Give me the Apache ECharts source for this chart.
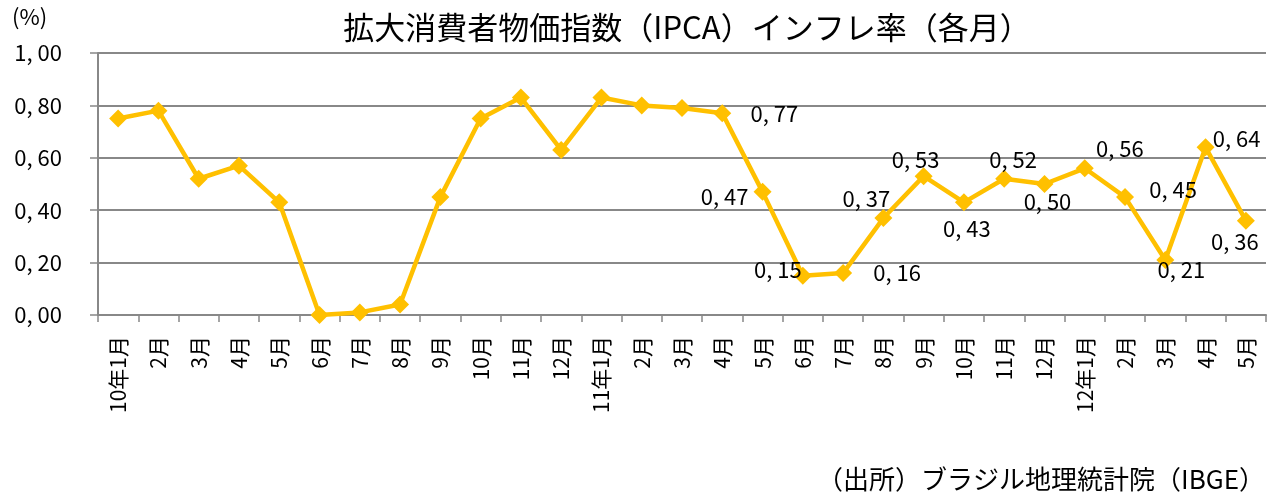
<!DOCTYPE html>
<html>
<head>
<meta charset="utf-8">
<script src="https://cdn.jsdelivr.net/npm/echarts@6/dist/echarts.min.js"></script>
<style>
  html, body { margin: 0; padding: 0; background: #fff; }
  #main { width: 1270px; height: 501px; }
</style>
</head>
<body>
<div id="main"></div>
<script>
// データ
var months = ['10年1月', '2月', '3月', '4月', '5月', '6月', '7月', '8月', '9月', '10月', '11月', '12月',
  '11年1月', '2月', '3月', '4月', '5月', '6月', '7月', '8月', '9月', '10月', '11月', '12月',
  '12年1月', '2月', '3月', '4月', '5月'];
var ipca = [0.75, 0.78, 0.52, 0.57, 0.43, 0.00, 0.01, 0.04, 0.45, 0.75, 0.83, 0.63,
  0.83, 0.80, 0.79, 0.77, 0.47, 0.15, 0.16, 0.37, 0.53, 0.43, 0.52, 0.50,
  0.56, 0.45, 0.21, 0.64, 0.36];
var yTicks = [0, 0.2, 0.4, 0.6, 0.8, 1.0];

// ラベルの位置（点の中心からのずれ）
var labelOffsets = {
  15: [52, 0], 16: [-38, 5], 17: [-25, -6], 18: [54, 0], 19: [-17, -19],
  20: [-8, -16], 21: [3, 26], 22: [9, -19], 23: [3, 18], 24: [35, -20],
  25: [48, -7], 26: [16, 10], 27: [31, -9], 28: [-11, 21]
};

function fmt(v) {
  return v.toFixed(2).replace('.', ', ');
}

var FONT = '"Noto Sans CJK JP", "Noto Sans", sans-serif';

var seriesData = ipca.map(function (v, i) {
  var item = { value: v };
  if (labelOffsets[i]) {
    item.label = { show: true, position: 'inside', offset: labelOffsets[i] };
  }
  return item;
});

var myChart = echarts.init(document.getElementById('main'));
var option = {
  backgroundColor: '#fff',
  animation: false,
  title: {
    text: '拡大消費者物価指数（IPCA）インフレ率（各月）',
    left: 682,
    textAlign: 'center',
    top: 7,
    textStyle: { fontFamily: FONT, fontSize: 31, fontWeight: 'normal', color: '#000' }
  },
  grid: { left: 98, right: 4, top: 53, bottom: 186 },
  xAxis: {
    type: 'category',
    data: months,
    boundaryGap: true,
    axisLine: { lineStyle: { color: '#888', width: 2 } },
    axisTick: { show: true, length: 7, interval: 0, lineStyle: { color: '#888', width: 1.5 } },
    axisLabel: {
      interval: 0,
      rotate: 90,
      margin: 21,
      fontFamily: FONT,
      fontSize: 21,
      color: '#000'
    }
  },
  yAxis: {
    type: 'value',
    min: yTicks[0],
    max: yTicks[yTicks.length - 1],
    interval: 0.2,
    axisLine: { show: true, lineStyle: { color: '#888', width: 2 } },
    axisTick: { show: true, length: 8, lineStyle: { color: '#888', width: 1.5 } },
    splitLine: { lineStyle: { color: '#888', width: 2 } },
    axisLabel: {
      margin: 36,
      fontFamily: FONT,
      fontSize: 22,
      color: '#000',
      formatter: fmt
    }
  },
  graphic: [
    {
      type: 'text', left: 12, top: 6,
      style: { text: '(%)', font: '22px ' + FONT, fill: '#000' }
    },
    {
      type: 'text', right: 5, top: 466,
      style: { text: '（出所）ブラジル地理統計院（IBGE）', font: '26px ' + FONT, fill: '#000' }
    }
  ],
  series: [{
    type: 'line',
    data: seriesData,
    symbol: 'diamond',
    symbolSize: 18,
    lineStyle: { color: '#FFC000', width: 4.5 },
    itemStyle: { color: '#FFC000' },
    label: {
      show: false,
      fontFamily: FONT,
      fontSize: 22,
      color: '#000',
      formatter: function (p) { return fmt(p.value); }
    }
  }]
};
myChart.setOption(option);
</script>
</body>
</html>
